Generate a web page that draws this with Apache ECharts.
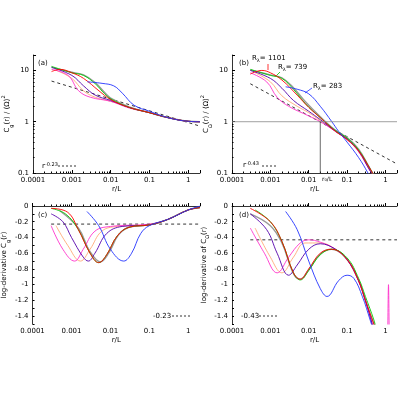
<!DOCTYPE html><html><head><meta charset="utf-8">
<script src="https://cdn.jsdelivr.net/npm/echarts@6/dist/echarts.min.js"></script>
<style>html,body{margin:0;background:#fff}#c{width:400px;height:400px}</style></head><body><div id="c"></div>
<script>
// Panel (a): normalized C_g
const aRed=[[0.0003,9.5],[0.0005,10.5],[0.001,9],[0.002,7],[0.005,4],[0.01,2.7],[0.03,1.9],[0.1,1.5],[0.3,1.2],[1,1.02],[2,1]];
const aGreen=[[0.0003,12],[0.001,9],[0.002,8],[0.004,5.5],[0.007,3.5],[0.01,2.8],[0.03,1.9],[0.1,1.5],[0.3,1.2],[1,1.02],[2,1]];
const aGray=[[0.0003,11.5],[0.001,9.2],[0.002,8.2],[0.004,5.8],[0.007,3.7],[0.01,2.9],[0.03,1.95],[0.1,1.5],[0.3,1.2],[1,1.02],[2,1]];
const aPurple=[[0.0003,11.5],[0.001,8],[0.002,5],[0.004,3.3],[0.01,2.6],[0.03,1.9],[0.1,1.5],[0.3,1.2],[1,1.02],[2,1]];
const aOrange=[[0.0004,10],[0.001,7],[0.002,4],[0.004,3],[0.01,2.5],[0.03,1.9],[0.1,1.5],[0.3,1.2],[1,1.02],[2,1]];
const aMagenta=[[0.0003,10.5],[0.0008,8],[0.0015,4],[0.003,3],[0.01,2.5],[0.03,1.85],[0.1,1.5],[0.3,1.2],[1,1.02],[2,1]];
const aBlue=[[0.0025,6],[0.006,5.6],[0.012,5],[0.02,3.6],[0.04,2.1],[0.1,1.6],[0.3,1.2],[1,1.02],[2,1]];
const aLine=[[0.0003,6.2],[2,0.82]];
// Panel (b): normalized C_Omega
const bRed=[[0.0003,8.5],[0.0006,10],[0.001,9],[0.002,6.5],[0.005,3.3],[0.01,1.9],[0.02,1.2],[0.05,0.65],[0.1,0.45],[0.2,0.27],[0.4,0.12],[0.5,0.09]];
const bGreen=[[0.0003,10.5],[0.001,8],[0.002,7],[0.004,4.3],[0.008,2.3],[0.02,1.2],[0.05,0.67],[0.1,0.48],[0.2,0.28],[0.4,0.12],[0.5,0.09]];
const bGray=[[0.0003,10.2],[0.001,8.2],[0.002,7.2],[0.004,4.6],[0.008,2.5],[0.02,1.25],[0.05,0.68],[0.1,0.49],[0.2,0.29],[0.4,0.12],[0.5,0.09]];
const bPurple=[[0.0003,10],[0.001,7],[0.002,4.5],[0.004,2.6],[0.01,1.6],[0.02,1.1],[0.05,0.65],[0.1,0.46],[0.2,0.27],[0.4,0.11],[0.5,0.09]];
const bOrange=[[0.0004,9],[0.001,6],[0.002,3.2],[0.005,2],[0.01,1.5],[0.02,1.05],[0.05,0.64],[0.1,0.45],[0.2,0.26],[0.4,0.11],[0.5,0.09]];
const bMagenta=[[0.0003,9],[0.0008,6],[0.0015,3],[0.003,2],[0.01,1.3],[0.02,1.0],[0.05,0.65],[0.1,0.45],[0.2,0.26],[0.4,0.11],[0.5,0.09]];
const bBlue=[[0.0025,4.8],[0.005,4.3],[0.01,3.5],[0.02,2],[0.04,1],[0.06,0.65],[0.1,0.4],[0.2,0.2],[0.35,0.1],[0.4,0.08]];
const bLine=[[0.0003,5.5],[2,0.15]];
const bRef=[[0.02,0.1],[0.02,1]];
// Panel (c): log-derivative C_g
const cRed=[[0.0003,-0.03],[0.0008,-0.08],[0.0015,-0.3],[0.003,-0.6],[0.005,-0.72],[0.008,-0.62],[0.015,-0.38],[0.03,-0.27],[0.1,-0.24],[0.3,-0.17],[1,-0.05],[2,-0.02]];
const cGreen=[[0.0003,-0.03],[0.0007,-0.1],[0.0015,-0.3],[0.003,-0.6],[0.005,-0.72],[0.008,-0.62],[0.015,-0.38],[0.03,-0.27],[0.1,-0.24],[0.3,-0.17],[1,-0.05],[2,-0.02]];
const cGray=[[0.0005,-0.06],[0.0015,-0.28],[0.003,-0.58],[0.0055,-0.71],[0.009,-0.6],[0.016,-0.37],[0.03,-0.27],[0.1,-0.24],[0.3,-0.17],[1,-0.05],[2,-0.02]];
const cPurple=[[0.0003,-0.1],[0.0006,-0.2],[0.001,-0.4],[0.002,-0.65],[0.0027,-0.7],[0.004,-0.6],[0.008,-0.35],[0.02,-0.26],[0.1,-0.24],[0.3,-0.17],[1,-0.05],[2,-0.02]];
const cOrange=[[0.0004,-0.25],[0.0008,-0.5],[0.0017,-0.7],[0.003,-0.55],[0.006,-0.32],[0.015,-0.26],[0.1,-0.24],[0.3,-0.17],[1,-0.05],[2,-0.02]];
const cMagenta=[[0.0003,-0.25],[0.0006,-0.55],[0.0012,-0.7],[0.002,-0.55],[0.004,-0.32],[0.01,-0.26],[0.1,-0.23],[0.3,-0.17],[1,-0.05],[2,-0.02]];
const cBlue=[[0.0025,-0.07],[0.005,-0.25],[0.01,-0.55],[0.022,-0.7],[0.035,-0.6],[0.06,-0.35],[0.1,-0.25],[0.3,-0.17],[1,-0.05],[2,0]];
const cLine=[[0.0003,-0.23],[2,-0.23]];
// Panel (d): log-derivative C_Omega
const dRed=[[0.0003,-0.03],[0.001,-0.2],[0.002,-0.45],[0.004,-0.85],[0.006,-0.93],[0.01,-0.8],[0.02,-0.6],[0.04,-0.55],[0.1,-0.68],[0.2,-0.95],[0.3,-1.2],[0.5,-1.5],[0.6,-1.6]];
const dGreen=[[0.0004,-0.05],[0.001,-0.2],[0.002,-0.45],[0.004,-0.85],[0.006,-0.94],[0.01,-0.82],[0.02,-0.62],[0.04,-0.55],[0.1,-0.66],[0.2,-0.92],[0.3,-1.15],[0.5,-1.45],[0.6,-1.6]];
const dGray=[[0.0003,-0.1],[0.001,-0.25],[0.002,-0.47],[0.004,-0.86],[0.006,-0.93],[0.01,-0.81],[0.02,-0.61],[0.04,-0.55],[0.1,-0.68],[0.2,-0.95],[0.3,-1.2],[0.5,-1.5],[0.6,-1.6]];
const dPurple=[[0.0003,-0.1],[0.0008,-0.3],[0.0015,-0.6],[0.003,-0.88],[0.005,-0.75],[0.01,-0.55],[0.02,-0.48],[0.05,-0.55],[0.1,-0.68],[0.2,-0.95],[0.3,-1.2],[0.45,-1.5],[0.5,-1.6]];
const dOrange=[[0.0004,-0.28],[0.001,-0.65],[0.002,-0.85],[0.004,-0.65],[0.008,-0.47],[0.02,-0.47],[0.05,-0.55],[0.1,-0.68],[0.2,-0.95],[0.3,-1.2],[0.45,-1.5],[0.5,-1.6]];
const dMagenta=[[0.0003,-0.28],[0.0007,-0.6],[0.0015,-0.85],[0.003,-0.65],[0.006,-0.47],[0.01,-0.43],[0.02,-0.46],[0.05,-0.55],[0.1,-0.68],[0.2,-0.95],[0.3,-1.2],[0.45,-1.5],[0.5,-1.6],null,[1.15,-1.6],[1.2,-1.0],[1.25,-1.6]];
const dBlue=[[0.0025,-0.07],[0.005,-0.3],[0.01,-0.7],[0.02,-1.05],[0.03,-1.15],[0.06,-0.95],[0.1,-0.88],[0.15,-0.92],[0.25,-1.15],[0.4,-1.45],[0.5,-1.6]];
const dLine=[[0.0003,-0.43],[2,-0.43]];
const xTicks=[0.0001,0.001,0.01,0.1,1];

const colors={red:'#ff0000',green:'#00cc00',gray:'#999999',purple:'#5500aa',orange:'#ffaa77',magenta:'#ff33cc',blue:'#2233ff'};
const F='DejaVu Sans';
const ch=echarts.init(document.getElementById('c'));
const grids=[{left:31,top:55,width:169,height:118},{left:232,top:55,width:167,height:118},{left:31,top:206,width:169,height:118},{left:232,top:206,width:167,height:118}];
const fmtX=v=>{for(const t of xTicks){if(Math.abs(v/t-1)<1e-6)return String(t);}return '';};
const xAxes=grids.map((g,i)=>({type:'log',gridIndex:i,min:0.0001,max:2,name:'r/L',nameLocation:'middle',nameGap:13,nameTextStyle:{fontSize:7,fontFamily:F,color:'#000'},
 axisLine:{lineStyle:{color:'#000',width:0.8}},axisTick:{inside:true,length:3,lineStyle:{color:'#000'}},minorTick:{show:true,splitNumber:9,length:1.5,lineStyle:{color:'#000'}},
 axisLabel:{fontSize:7,fontFamily:F,color:'#000',formatter:fmtX,margin:4},splitLine:{show:false}}));
const rich={s:{fontSize:5,fontFamily:F,verticalAlign:'bottom',padding:[0,0,-3,0]},p:{fontSize:5,fontFamily:F,verticalAlign:'top',padding:[-3,0,0,0]}};
const yNames=['C{s|g}(r) / ⟨Ω⟩{p|2}','C{s|Ω}(r) / ⟨Ω⟩{p|2}','log-derivative C{s|g}(r)','log-derivative of C{s|Ω}(r)'];
const yAxes=grids.map((g,i)=>{
 const base={gridIndex:i,name:yNames[i],nameLocation:'middle',nameRotate:90,nameGap:i<2?17:22,nameTextStyle:{fontSize:7,fontFamily:F,color:'#000',rich},
 axisLine:{lineStyle:{color:'#000',width:0.8}},axisTick:{inside:true,length:3,lineStyle:{color:'#000'}},axisLabel:{fontSize:7,fontFamily:F,color:'#000',margin:4},splitLine:{show:false}};
 if(i<2)return Object.assign(base,{type:'log',min:0.1,max:20,minorTick:{show:true,splitNumber:9,length:1.5,lineStyle:{color:'#000'}},axisLabel:Object.assign(base.axisLabel,{formatter:v=>[0.1,1,10].some(t=>Math.abs(v/t-1)<1e-6)?String(v):''})});
 return Object.assign(base,{type:'value',min:-1.5,max:0,interval:0.1,axisTick:{inside:true,length:2,lineStyle:{color:'#000'}},axisLabel:Object.assign(base.axisLabel,{formatter:v=>{const r=Math.round(v*10);return (r%2===0)?String(+(r/10).toFixed(1)):'';}})});
});
const sets=[
 {red:aRed,green:aGreen,gray:aGray,purple:aPurple,orange:aOrange,magenta:aMagenta,blue:aBlue,line:aLine},
 {red:bRed,green:bGreen,gray:bGray,purple:bPurple,orange:bOrange,magenta:bMagenta,blue:bBlue,line:bLine},
 {red:cRed,green:cGreen,gray:cGray,purple:cPurple,orange:cOrange,magenta:cMagenta,blue:cBlue,line:cLine},
 {red:dRed,green:dGreen,gray:dGray,purple:dPurple,orange:dOrange,magenta:dMagenta,blue:dBlue,line:dLine}];
const series=[];
sets.forEach((s,i)=>{
 series.push({type:'line',xAxisIndex:i,yAxisIndex:i,data:s.line,symbol:'none',silent:true,lineStyle:{color:'#000',width:0.8,type:[3,3]}});
 ['gray','orange','magenta','purple','green','red','blue'].forEach(k=>series.push({type:'line',xAxisIndex:i,yAxisIndex:i,data:s[k],symbol:'none',smooth:0.4,connectNulls:false,silent:true,lineStyle:{color:colors[k],width:k==='gray'?1.4:0.9}}));
});
series.push({type:'line',xAxisIndex:1,yAxisIndex:1,data:[[0.0001,1],[2,1]],symbol:'none',lineStyle:{color:'#888',width:0.8}});
series.push({type:'line',xAxisIndex:1,yAxisIndex:1,data:bRef,symbol:'none',lineStyle:{color:'#444',width:0.8}});
const T=(l,t,txt,fs)=>({type:'text',left:l,top:t,style:{text:txt,fontSize:fs||7,fontFamily:F,fill:'#000',rich:{s:{fontSize:5,fontFamily:F,padding:[4,0,0,0]},p:{fontSize:5,fontFamily:F,padding:[0,0,3,0]}}}});
const L=(x1,y1,x2,y2,c)=>({type:'line',shape:{x1,y1,x2,y2},style:{stroke:c,lineWidth:0.8}});
const Dash=(x1,y,x2)=>({type:'line',shape:{x1,y1:y,x2,y2:y},style:{stroke:'#000',lineWidth:0.8,lineDash:[2,2]}});
ch.setOption({animation:false,grid:grids,xAxis:xAxes,yAxis:yAxes,series,
 graphic:[T(38,60,'(a)'),T(239,60,'(b)'),T(38,212,'(c)'),T(239,212,'(d)'),
  T(42,162,'r{p|-0.23}'),Dash(58,166,76),
  T(243,161,'r{p|-0.43}'),Dash(262,166,278),
  T(153,313,'-0.23'),Dash(172,316,190),
  T(241,313,'-0.43'),Dash(259,316,277),
  T(322,176,'r₀/L',6),
  T(252,55,'R{s|λ}= 1101'),L(268,64,268,70,'#ff0000'),
  T(278,64,'R{s|λ}= 739'),L(280,72,276,76,'#00cc00'),
  T(313,83,'R{s|λ}= 283'),L(312,88,305,93,'#2233ff')]});
</script></body></html>
